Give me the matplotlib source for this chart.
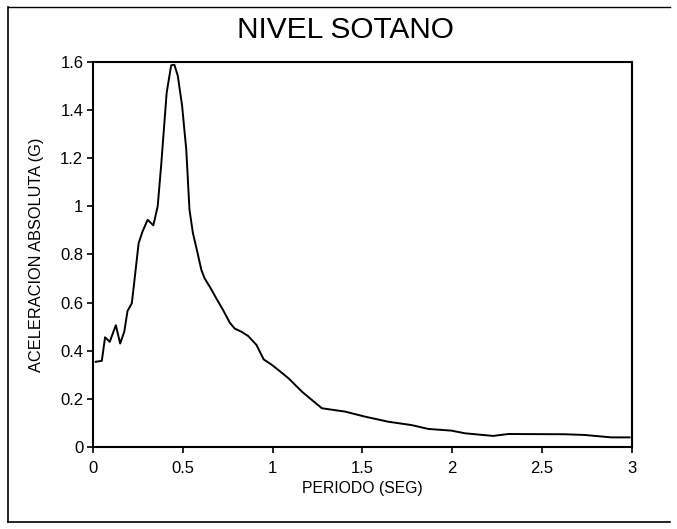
import matplotlib
matplotlib.use('Agg')
import matplotlib.pyplot as plt
from matplotlib.lines import Line2D

# spectrum
periodo = [0.015, 0.049, 0.067, 0.093, 0.127, 0.151, 0.174, 0.192, 0.216, 0.233,
           0.254, 0.276, 0.304, 0.336, 0.36, 0.379, 0.41, 0.435, 0.453, 0.472,
           0.496, 0.519, 0.537, 0.556, 0.578, 0.603, 0.621, 0.649, 0.683, 0.724,
           0.761, 0.789, 0.826, 0.864, 0.91, 0.95, 0.996, 1.04, 1.089, 1.163,
           1.219, 1.274, 1.404, 1.515, 1.644, 1.774, 1.867, 1.996, 2.07, 2.228,
           2.311, 2.626, 2.737, 2.885, 2.987]
acel = [0.354, 0.358, 0.456, 0.437, 0.506, 0.43, 0.479, 0.565, 0.597, 0.708,
        0.847, 0.896, 0.944, 0.921, 1.0, 1.167, 1.472, 1.586, 1.588, 1.542,
        1.417, 1.236, 0.986, 0.889, 0.819, 0.736, 0.701, 0.667, 0.622, 0.569,
        0.517, 0.492, 0.479, 0.461, 0.424, 0.364, 0.341, 0.315, 0.285, 0.23,
        0.195, 0.161, 0.147, 0.126, 0.105, 0.091, 0.075, 0.068, 0.057, 0.046,
        0.054, 0.053, 0.05, 0.04, 0.04]

xticks = [0, 0.5, 1, 1.5, 2, 2.5, 3]
xticklabels = ['0', '0.5', '1', '1.5', '2', '2.5', '3']
yticks = [0, 0.2, 0.4, 0.6, 0.8, 1.0, 1.2, 1.4, 1.6]
yticklabels = ['0', '0.2', '0.4', '0.6', '0.8', '1', '1.2', '1.4', '1.6']

plt.rcParams['font.family'] = ['Liberation Sans', 'DejaVu Sans']

fig = plt.figure(figsize=(6.77, 5.29), dpi=100)
ax = fig.add_axes([0.1374, 0.155, 0.796, 0.728])

ax.plot(periodo, acel, color='black', lw=1.4)
ax.set_xlim(0, 3)
ax.set_ylim(0, 1.6)
ax.set_xticks(xticks)
ax.set_xticklabels(xticklabels)
ax.set_yticks(yticks)
ax.set_yticklabels(yticklabels)
ax.tick_params(direction='out', length=4, width=1.2, labelsize=12, pad=3)
ax.tick_params(axis='x', pad=6)
for s in ax.spines.values():
    s.set_linewidth(1.5)

ax.set_xlabel('PERIODO (SEG)', fontsize=11.3, labelpad=4)
ax.set_ylabel('ACELERACION ABSOLUTA (G)', fontsize=11.8, labelpad=12)
fig.text(0.51, 0.943, 'NIVEL SOTANO', ha='center', va='center', fontsize=21.5)

# page frame of the scan
fig.add_artist(Line2D([0.012, 0.012], [0.013, 0.987], color='black', lw=1.2))
fig.add_artist(Line2D([0.012, 0.99], [0.987, 0.987], color='black', lw=1.0))
fig.add_artist(Line2D([0.012, 0.99], [0.013, 0.013], color='black', lw=1.2))

plt.savefig('out.png', dpi=100)
